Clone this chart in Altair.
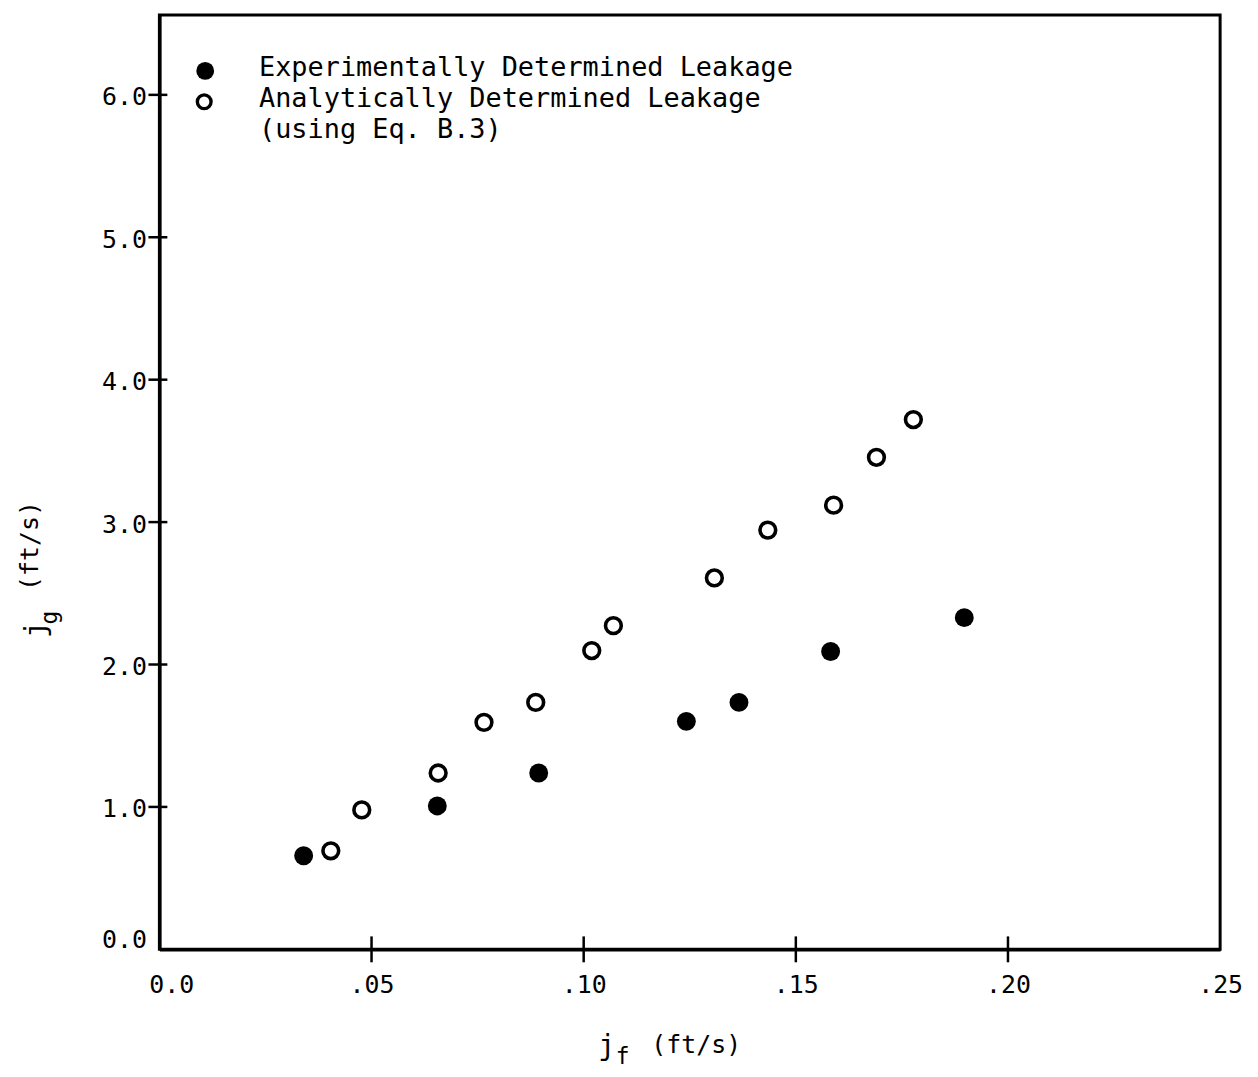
import altair as alt
import pandas as pd

# ---- data ----
exp_jf = [0.0340, 0.0655, 0.0894, 0.1242, 0.1366, 0.1582, 0.1897]
exp_jg = [0.657, 1.007, 1.238, 1.601, 1.734, 2.091, 2.329]

ana_jf = [0.0404, 0.0477, 0.0657, 0.0765, 0.0887, 0.1019, 0.1070,
          0.1308, 0.1434, 0.1589, 0.1690, 0.1777]
ana_jg = [0.692, 0.979, 1.238, 1.594, 1.734, 2.098, 2.273,
          2.608, 2.944, 3.119, 3.455, 3.720]

x_ticks = [0.0, 0.05, 0.10, 0.15, 0.20, 0.25]
y_ticks = [0.0, 1.0, 2.0, 3.0, 4.0, 5.0, 6.0]
x_cross_ticks = [0.05, 0.10, 0.15, 0.20]
y_cross_ticks = [1.0, 2.0, 3.0, 4.0, 5.0, 6.0]

legend_lines = ["Experimentally Determined Leakage",
                "Analytically Determined Leakage",
                "(using Eq. B.3)"]

FONT = "DejaVu Sans Mono"
W, H = 1065, 938

df_exp = pd.DataFrame({"jf": exp_jf, "jg": exp_jg})
df_ana = pd.DataFrame({"jf": ana_jf, "jg": ana_jg})

xscale = alt.Scale(domain=[0, 0.25], nice=False, zero=False)
yscale = alt.Scale(domain=[0, 6.56], nice=False, zero=False)

xaxis = alt.Axis(
    values=x_ticks, ticks=False, grid=False, title=None,
    domainColor="black", domainWidth=3.5, labelFlush=False,
    labelFont=FONT, labelFontSize=25, labelColor="black", labelPadding=23,
    labelExpr="datum.value == 0 ? '0.0' : replace(format(datum.value, '.2f'), '0.', '.')",
    labelOffset={"condition": {"test": "datum.value == 0", "value": 12}, "value": 0},
)
yaxis = alt.Axis(
    values=y_ticks, ticks=False, grid=False, title=None, format=".1f",
    domainColor="black", domainWidth=3.5, labelFlush=False,
    labelFont=FONT, labelFontSize=25, labelColor="black", labelPadding=13,
    labelOffset={"condition": {"test": "datum.value == 0", "value": -10}, "value": 2},
)

X = alt.X("jf:Q", scale=xscale, axis=xaxis)
Y = alt.Y("jg:Q", scale=yscale, axis=yaxis)

exp_layer = alt.Chart(df_exp).mark_point(
    filled=True, color="black", size=360, opacity=1, shape="circle"
).encode(x=X, y=Y)

ana_layer = alt.Chart(df_ana).mark_point(
    filled=False, color="black", size=250, strokeWidth=3.6, opacity=1, shape="circle"
).encode(x=alt.X("jf:Q", scale=xscale), y=alt.Y("jg:Q", scale=yscale))

xt = alt.Chart(pd.DataFrame({"v": x_cross_ticks})).mark_rule(
    color="black", strokeWidth=2.5
).encode(x=alt.X("v:Q", scale=xscale), y=alt.value(H - 13), y2=alt.value(H + 13))

yt = alt.Chart(pd.DataFrame({"v": y_cross_ticks})).mark_rule(
    color="black", strokeWidth=2.5
).encode(y=alt.Y("v:Q", scale=yscale), x=alt.value(-11), x2=alt.value(8))

# legend (manual, inside the plot)
leg_fill = alt.Chart(pd.DataFrame({"a": [0]})).mark_point(
    filled=True, color="black", size=320, opacity=1, shape="circle"
).encode(x=alt.value(46), y=alt.value(56))
leg_open = alt.Chart(pd.DataFrame({"a": [0]})).mark_point(
    filled=False, color="black", size=190, strokeWidth=3.4, opacity=1, shape="circle"
).encode(x=alt.value(45), y=alt.value(87))

leg_text_layers = []
for txt, yy in zip(legend_lines, [53, 84, 115]):
    leg_text_layers.append(
        alt.Chart(pd.DataFrame({"t": [txt]})).mark_text(
            font=FONT, fontSize=27, color="black", align="left", baseline="middle"
        ).encode(text="t:N", x=alt.value(100), y=alt.value(yy))
    )

def label(txt, x, y, size, angle=0):
    kw = dict(font=FONT, fontSize=size, color="black", align="center", baseline="middle")
    if angle:
        kw["angle"] = angle
    return alt.Chart(pd.DataFrame({"t": [txt]})).mark_text(**kw).encode(
        text="t:N", x=alt.value(x), y=alt.value(y))

titles = [
    # x title  j_f (ft/s)
    label("j", 449, 1036, 28),
    label("f", 465, 1046, 23),
    label("(ft/s)", 539, 1034, 25),
    # y title  j_g (ft/s)
    label("j", -123, 617, 28, 270),
    label("g", -110, 605, 23, 270),
    label("(ft/s)", -130, 533, 25, 270),
]

chart = alt.layer(
    exp_layer, ana_layer, xt, yt, leg_fill, leg_open, *leg_text_layers, *titles
).properties(
    width=W, height=H,
    autosize=alt.AutoSizeParams(type="none"),
    padding={"left": 152, "top": 5, "right": 30, "bottom": 117},
    background="white",
).configure_view(
    stroke="black", strokeWidth=3
)

chart.save("out.html", embed_options={"renderer": "svg", "actions": False})
